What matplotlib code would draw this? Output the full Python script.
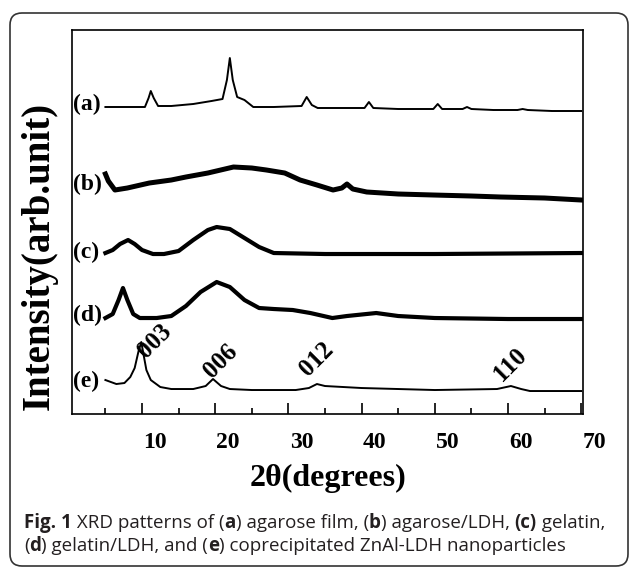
import matplotlib
matplotlib.use("Agg")
import matplotlib.pyplot as plt
from matplotlib.patches import FancyBboxPatch
from matplotlib.transforms import ScaledTranslation

# XRD traces, intensity in arbitrary units (stacked)
x_a = [5.0, 8.0, 10.4, 10.9, 11.2, 11.6, 12.2, 14.0, 17.0, 19.5, 21.0, 21.6, 22.0, 22.4, 23.0,
       24.0, 25.2, 28.0, 31.8, 32.5, 33.2, 34.0, 38.0, 40.4, 41.0, 41.6, 45.0, 49.8, 50.4,
       51.0, 53.8, 54.4, 55.0, 58.0, 61.3, 62.0, 62.7, 66.0, 70.0]
y_a = [307, 307, 307, 316, 323, 316, 308, 308, 310, 313, 315, 334, 356, 334, 317,
       314, 307, 307, 308, 317, 309, 306, 306, 306, 312, 306, 305, 305, 310,
       305, 305, 307, 305, 304, 304, 305, 304, 303, 303]

x_b = [5.0, 5.4, 6.3, 8.0, 11.0, 14.0, 16.0, 19.0, 22.5, 25.0, 27.0, 29.5, 31.6, 33.9,
       36.1, 37.3, 38.0, 38.8, 40.7, 45.0, 49.8, 55.0, 59.0, 65.0, 70.0]
y_b = [240, 233, 224, 226, 231, 234, 237, 241, 247, 246, 244, 241, 234, 229,
       224, 226, 230, 225, 222, 220, 219, 218, 217, 216, 214]

x_c = [5.0, 6.0, 7.0, 8.1, 9.0, 10.0, 11.5, 13.0, 15.0, 17.0, 19.0, 20.2, 22.0, 24.0,
       26.0, 28.0, 35.0, 50.0, 70.0]
y_c = [161, 164, 170, 174, 170, 164, 160, 160, 163, 174, 184, 187, 185, 176,
       167, 161, 160, 160, 161]

x_d = [5.0, 6.0, 6.8, 7.4, 8.0, 8.8, 9.7, 12.0, 14.0, 16.0, 18.0, 20.2, 22.0, 24.0,
       26.0, 28.0, 30.6, 33.0, 36.0, 38.0, 42.0, 45.0, 50.0, 60.0, 70.0]
y_d = [96, 100, 114, 126, 114, 100, 96, 96, 98, 108, 122, 132, 127, 114,
       106, 105, 104, 101, 96, 98, 101, 98, 96, 95, 95]

x_e = [5.0, 6.5, 7.6, 8.4, 9.0, 9.5, 9.9, 10.2, 10.6, 11.2, 12.5, 14.0, 17.0, 18.7, 19.7,
       20.8, 22.0, 25.0, 31.0, 32.8, 33.9, 35.0, 40.0, 50.0, 58.5, 60.4, 61.8, 63.0, 70.0]
y_e = [34, 30, 31, 37, 46, 62, 72, 60, 44, 34, 27, 25, 25, 28, 35,
       28, 25, 24, 24, 26, 30, 28, 26, 24, 25, 28, 25, 23, 23]

curve_names = ["(a)", "(b)", "(c)", "(d)", "(e)"]
name_levels = [310, 230, 162, 99, 33]

peak_labels = ["003", "006", "012", "110"]
peak_x = [10.5, 19.6, 32.7, 59.2]
peak_y = [55, 35, 37, 32]

caption1 = [("Fig. 1", True), (" XRD patterns of (", False), ("a", True),
            (") agarose film, (", False), ("b", True), (") agarose/LDH, ", False),
            ("(c)", True), (" gelatin,", False)]
caption2 = [("(", False), ("d", True), (") gelatin/LDH, and (", False), ("e", True),
            (") coprecipitated ZnAl-LDH nanoparticles", False)]

serif = "Liberation Serif"

fig = plt.figure(figsize=(6.29, 5.67), dpi=100)
ax = fig.add_axes([0.1145, 0.2698, 0.8124, 0.6773])

ax.plot(x_a, y_a, color="black", lw=1.4)
ax.plot(x_b, y_b, color="black", lw=3.6)
ax.plot(x_c, y_c, color="black", lw=3.0)
ax.plot(x_d, y_d, color="black", lw=3.0)
ax.plot(x_e, y_e, color="black", lw=1.4)

for name, lev in zip(curve_names, name_levels):
    ax.text(0.6, lev, name, fontsize=17, fontweight="bold", family=serif,
            ha="left", va="center")

for lab, px, py in zip(peak_labels, peak_x, peak_y):
    ax.text(px, py, lab, fontsize=18, fontweight="bold", family=serif, rotation=45,
            rotation_mode="anchor", ha="left", va="baseline")

ax.set_xlim(0.44, 70.25)
ax.set_ylim(0, 384)
ax.set_yticks([])
ax.set_xticks([10, 20, 30, 40, 50, 60, 70])
ax.set_xticks([5, 15, 25, 35, 45, 55, 65], minor=True)
ax.tick_params(axis="x", which="major", direction="in", length=8, width=1.2, pad=13)
ax.tick_params(axis="x", which="minor", direction="in", length=4, width=1.2)
for sp in ax.spines.values():
    sp.set_linewidth(1.2)

ax.set_xlabel("2θ(degrees)", fontsize=23, fontweight="bold", family=serif, labelpad=8)
ax.set_ylabel("Intensity(arb.unit)", fontsize=28, fontweight="bold", family=serif)
ax.yaxis.set_label_coords(-0.027, 0.412)

# the labels in the original sit a little right of their ticks
shift = ScaledTranslation(0.13, 0, fig.dpi_scale_trans)
for lbl in ax.get_xticklabels():
    lbl.set_fontsize(17)
    lbl.set_fontweight("bold")
    lbl.set_family(serif)
    lbl.set_transform(lbl.get_transform() + shift)

# rounded frame around figure and caption
frame = FancyBboxPatch((0.10, 0.01), 6.18, 5.53, boxstyle="round,pad=0,rounding_size=0.12",
                       transform=fig.dpi_scale_trans, fill=False, ec="#333333", lw=1.2)
fig.patches.append(frame)

renderer = fig.canvas.get_renderer()


def text_width(s, bold, size):
    probe = fig.text(0, 0, "|" + s + "|", fontsize=size, family="Open Sans",
                     fontweight="bold" if bold else "normal")
    bar = fig.text(0, 0, "||", fontsize=size, family="Open Sans",
                   fontweight="bold" if bold else "normal")
    w = probe.get_window_extent(renderer).width - bar.get_window_extent(renderer).width
    probe.remove()
    bar.remove()
    return w


def caption_line(runs, x_px, y_px, size):
    for s, bold in runs:
        fig.text(x_px / 629, 1 - y_px / 567, s, fontsize=size, family="Open Sans",
                 fontweight="bold" if bold else "normal", color="#231f20",
                 ha="left", va="baseline")
        x_px += text_width(s, bold, size)


caption_line(caption1, 24, 528, 13.5)
caption_line(caption2, 24, 551, 13.5)

fig.savefig("out.png", dpi=100)
